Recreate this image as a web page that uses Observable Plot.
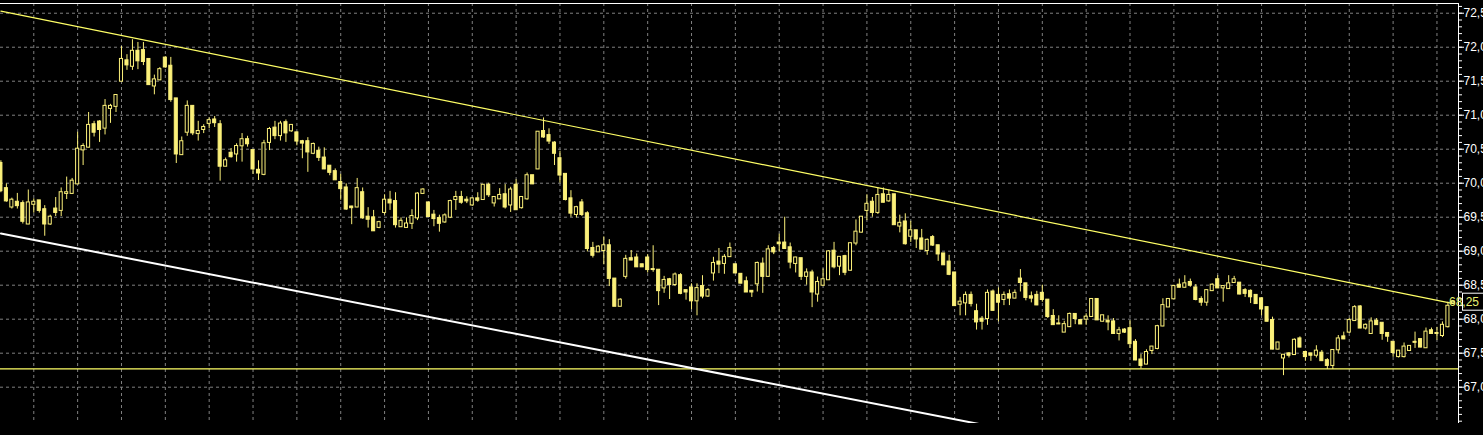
<!DOCTYPE html>
<html><head><meta charset="utf-8">
<script src="https://cdn.jsdelivr.net/npm/d3@7"></script>
<script src="https://cdn.jsdelivr.net/npm/@observablehq/plot@0.6"></script>
<style>html,body{margin:0;padding:0;background:#000;overflow:hidden}svg{display:block}</style>
</head><body><div id="chart"></div>
<script>
// ---- data (price per bar, bar index = position in list) ----
const opens = [70.29,69.92,69.65,69.72,69.70,69.40,69.69,69.74,69.61,69.40,69.62,69.60,69.85,69.85,69.99,70.49,70.53,70.86,70.90,70.81,71.10,71.13,71.50,71.80,71.72,71.94,71.95,71.82,71.43,71.52,71.84,71.72,71.24,70.42,70.75,71.13,70.73,70.79,70.88,70.93,70.86,70.25,70.44,70.43,70.55,70.64,70.48,70.19,70.13,70.60,70.81,70.70,70.89,70.77,70.74,70.61,70.61,70.44,70.47,70.37,70.25,70.17,70.01,69.93,69.65,69.65,69.86,69.50,69.49,69.35,69.57,69.75,69.73,69.36,69.35,69.41,69.49,69.85,69.71,69.53,69.48,69.43,69.50,69.76,69.79,69.75,69.68,69.77,69.76,69.97,69.71,69.77,69.83,69.68,69.97,69.64,69.77,70.11,70.21,70.76,70.70,70.59,70.36,70.13,69.77,69.54,69.71,69.55,69.04,68.99,69.01,69.08,68.59,68.19,68.63,68.89,68.90,68.80,68.90,68.73,68.72,68.46,68.58,68.51,68.64,68.42,68.46,68.27,68.48,68.34,68.68,68.84,68.82,68.92,68.80,68.66,68.55,68.41,68.52,68.81,68.63,69.04,69.12,69.12,69.05,68.82,68.89,68.63,68.68,68.37,68.50,68.58,69.00,68.78,68.92,68.72,69.12,69.28,69.60,69.72,69.57,69.83,69.74,69.83,69.37,69.43,69.22,69.30,69.18,69.01,69.20,69.08,68.96,68.84,68.68,68.22,68.24,68.35,68.11,68.00,68.01,68.40,68.35,68.29,68.36,68.31,68.59,68.52,68.33,68.35,68.38,68.28,68.04,67.93,67.81,67.89,68.07,67.98,68.00,68.04,68.29,67.97,67.97,67.96,67.79,67.84,67.86,67.66,67.40,67.34,67.54,67.57,67.90,68.18,68.30,68.50,68.47,68.54,68.46,68.29,68.25,68.42,68.58,68.46,68.45,68.54,68.53,68.42,68.41,68.35,68.30,68.17,67.98,67.56,67.43,67.49,67.48,67.71,67.51,67.49,67.47,67.50,67.39,67.32,67.55,67.74,67.81,67.98,68.18,67.87,67.79,67.97,67.94,67.79,67.66,67.45,67.45,67.54,67.66,67.70,67.58,67.83,67.79,67.76,67.89,68.24];
const highs = [70.33,69.99,69.78,69.85,69.74,69.90,69.77,69.74,69.67,69.53,69.79,69.93,70.09,70.07,70.75,70.58,71.04,70.91,70.92,71.23,71.16,71.29,72.01,71.89,72.11,72.07,72.07,71.82,71.59,71.70,71.86,71.85,71.24,70.68,71.21,71.14,70.91,70.86,70.96,70.98,70.92,70.37,70.51,70.58,70.73,70.69,70.48,70.33,70.63,70.82,70.91,70.91,70.93,70.86,70.75,70.63,70.67,70.59,70.53,70.52,70.25,70.21,70.13,69.99,69.66,70.07,69.93,69.64,69.60,69.44,69.83,69.88,69.86,69.49,69.49,69.61,69.86,69.92,69.71,69.60,69.53,69.55,69.75,69.88,69.88,69.80,69.78,69.86,69.98,70.00,69.80,69.92,69.98,69.94,70.05,69.80,70.15,70.11,70.75,70.96,70.80,70.61,70.47,70.13,69.89,69.66,69.76,69.58,69.13,69.08,69.21,69.17,68.59,68.30,68.94,69.01,68.96,68.81,68.95,69.08,68.72,68.63,68.60,68.68,68.67,68.42,68.52,68.52,68.64,68.45,68.91,69.04,68.95,69.12,68.80,68.67,68.62,68.42,68.84,68.90,69.08,69.07,69.25,69.50,69.12,68.91,68.89,68.74,68.72,68.62,68.74,69.01,69.13,68.92,68.94,69.12,69.46,69.51,69.83,69.79,69.93,69.93,69.90,69.83,69.53,69.55,69.44,69.30,69.32,69.18,69.23,69.08,68.96,68.94,68.68,68.32,68.40,68.40,68.22,68.04,68.43,68.43,68.46,68.40,68.43,68.43,68.73,68.52,68.40,68.41,68.50,68.28,68.14,68.05,67.97,68.09,68.07,67.98,68.08,68.30,68.29,68.05,68.05,68.01,67.88,67.86,67.98,67.70,67.48,67.55,67.60,67.91,68.30,68.29,68.50,68.59,68.64,68.59,68.51,68.33,68.43,68.52,68.64,68.48,68.64,68.63,68.53,68.45,68.43,68.35,68.31,68.17,68.03,67.66,67.48,67.51,67.71,67.74,67.53,67.49,67.61,67.54,67.42,67.55,67.76,67.81,68.01,68.20,68.20,67.93,68.02,68.01,67.94,67.80,67.66,67.54,67.65,67.61,67.81,67.70,67.87,67.87,67.88,67.96,68.25,68.26];
const lows = [69.86,69.72,69.62,69.62,69.40,69.39,69.56,69.56,69.22,69.38,69.51,69.51,69.76,69.84,69.98,70.26,70.52,70.68,70.60,70.71,70.88,71.04,71.50,71.66,71.66,71.67,71.73,71.44,71.30,71.51,71.69,71.19,70.29,70.41,70.69,70.70,70.62,70.73,70.80,70.82,70.03,70.25,70.37,70.31,70.31,70.53,70.13,70.04,70.11,70.48,70.64,70.62,70.60,70.75,70.55,70.36,70.16,70.42,70.32,70.20,70.11,70.05,69.75,69.60,69.39,69.64,69.47,69.34,69.29,69.33,69.53,69.60,69.34,69.35,69.34,69.32,69.45,69.84,69.50,69.36,69.28,69.41,69.48,69.60,69.69,69.70,69.66,69.72,69.75,69.79,69.65,69.76,69.62,69.57,69.60,69.62,69.75,69.98,70.20,70.66,70.57,70.26,70.00,69.74,69.50,69.49,69.51,68.99,68.90,68.99,68.80,68.48,68.19,68.19,68.59,68.86,68.76,68.77,68.68,68.69,68.20,68.38,68.29,68.48,68.36,68.28,68.14,68.05,68.30,68.32,68.56,68.67,68.66,68.92,68.68,68.52,68.40,68.32,68.40,68.38,68.62,68.95,68.99,69.03,68.74,68.68,68.57,68.50,68.17,68.25,68.48,68.57,68.74,68.64,68.64,68.71,69.08,69.27,69.45,69.50,69.54,69.71,69.72,69.38,69.27,69.09,69.13,69.04,69.03,68.94,69.07,68.85,68.79,68.64,68.19,68.05,68.05,68.18,67.84,67.84,67.91,68.12,67.96,68.20,68.20,68.30,68.40,68.27,68.24,68.20,68.25,68.01,67.91,67.92,67.81,67.88,67.92,67.93,67.91,68.03,67.98,67.96,67.83,67.78,67.68,67.79,67.57,67.39,67.27,67.33,67.48,67.55,67.89,68.18,68.29,68.46,68.46,68.47,68.27,68.19,68.19,68.41,68.45,68.25,68.44,68.53,68.36,68.32,68.23,68.23,68.05,67.96,67.55,67.55,67.17,67.43,67.47,67.58,67.38,67.38,67.43,67.38,67.26,67.26,67.49,67.70,67.79,67.97,67.86,67.84,67.79,67.91,67.69,67.66,67.44,67.43,67.43,67.53,67.57,67.58,67.57,67.78,67.69,67.73,67.87,68.22];
const closes = [69.89,69.74,69.75,69.67,69.44,69.71,69.72,69.60,69.40,69.50,69.57,69.86,69.86,70.03,70.50,70.54,70.85,70.75,70.79,71.13,71.13,71.29,71.82,71.74,71.94,71.80,71.79,71.45,71.52,71.67,71.71,71.23,70.43,70.61,71.13,70.74,70.76,70.82,70.92,70.89,70.25,70.33,70.39,70.54,70.64,70.58,70.21,70.15,70.58,70.79,70.70,70.87,70.74,70.85,70.62,70.59,70.46,70.57,70.38,70.21,70.16,70.05,69.92,69.62,69.64,69.92,69.49,69.47,69.30,69.42,69.75,69.71,69.39,69.44,69.40,69.51,69.84,69.90,69.51,69.48,69.41,69.52,69.73,69.79,69.72,69.74,69.77,69.75,69.97,69.83,69.79,69.82,69.65,69.90,69.61,69.79,70.11,69.99,70.75,70.68,70.62,70.44,70.12,69.76,69.56,69.64,69.54,69.04,68.94,69.06,69.08,68.60,68.19,68.28,68.88,68.87,68.77,68.77,68.73,68.73,68.42,68.57,68.51,68.65,68.38,68.40,68.27,68.45,68.34,68.42,68.82,68.81,68.91,69.04,68.68,68.53,68.40,68.40,68.82,68.63,69.02,68.99,69.11,69.04,68.84,68.90,68.63,68.68,68.40,68.54,68.58,68.99,68.77,68.91,68.69,69.11,69.28,69.50,69.69,69.57,69.82,69.72,69.82,69.39,69.41,69.11,69.30,69.18,69.03,69.16,69.09,68.96,68.80,68.66,68.20,68.25,68.35,68.23,67.96,67.97,68.38,68.13,68.25,68.35,68.31,68.38,68.54,68.32,68.31,68.21,68.29,68.04,67.92,67.93,67.92,68.07,68.01,67.93,68.03,68.29,67.99,68.05,67.96,67.79,67.83,67.81,67.64,67.40,67.32,67.51,67.59,67.89,68.20,68.29,68.48,68.47,68.52,68.50,68.29,68.25,68.42,68.50,68.46,68.48,68.52,68.58,68.37,68.38,68.33,68.23,68.15,67.97,67.56,67.65,67.47,67.47,67.69,67.59,67.45,67.47,67.53,67.39,67.32,67.54,67.71,67.71,67.98,68.17,67.87,67.91,67.96,67.92,67.79,67.75,67.51,67.53,67.59,67.60,67.66,67.59,67.81,67.79,67.79,67.91,68.19,68.25];

const priceTicks = [67.0, 67.5, 68.0, 68.5, 69.0, 69.5, 70.0, 70.5, 71.0, 71.5, 72.0, 72.5];
const upperTrendBar = [0, 265];
const upperTrendPrice = [72.53, 68.23];
const lowerTrendBar = [0, 265];
const lowerTrendPrice = [69.26, 65.10];
const supportLevel = 67.27;
const lastPrice = 68.25;
const lastPriceLabel = "68,25";

// ---- styling ----
const YELLOW = "#fbf07a";
const LINE_YELLOW = "#ffff66";
const GRID = "#808080";
const HW = 0.28; // half body width in bar units
const FONT = "'Liberation Sans', Arial, sans-serif";

const bars = opens.map((o, i) => ({i, o, h: highs[i], l: lows[i], c: closes[i]}));
const gridBars = d3.range(6, bars.length, 8);
const minorTicks = d3.range(665, 727).map(v => v / 10);
const upper = upperTrendBar.map((b, k) => ({b, p: upperTrendPrice[k]}));
const lower = lowerTrendBar.map((b, k) => ({b, p: lowerTrendPrice[k]}));
const xMax = 265.93, yMax = 72.643;
const fmt = d => d.toFixed(1).replace(".", ",");

const plot = Plot.plot({
  width: 1483, height: 435,
  marginLeft: 0, marginRight: 25, marginTop: 3, marginBottom: 12,
  style: {background: "#000", color: "#fff", fontFamily: FONT, fontSize: "12px"},
  x: {domain: [-0.073, xMax], axis: null},
  y: {domain: [66.466, yMax], axis: null},
  marks: [
    Plot.gridY(priceTicks, {stroke: GRID, strokeOpacity: 1, strokeDasharray: "3,3"}),
    Plot.gridX(gridBars, {stroke: GRID, strokeOpacity: 1, strokeDasharray: "3,3"}),
    Plot.ruleY([supportLevel], {stroke: LINE_YELLOW, strokeWidth: 1.2}),
    Plot.line(lower, {x: "b", y: "p", stroke: "#fff", strokeWidth: 2, clip: true}),
    Plot.line(upper, {x: "b", y: "p", stroke: LINE_YELLOW, strokeWidth: 1.2, clip: true}),
    Plot.ruleX(bars, {x: "i", y1: "l", y2: "h", stroke: YELLOW, strokeWidth: 1}),
    Plot.rect(bars, {
      x1: d => d.i - HW, x2: d => d.i + HW, y1: "o", y2: "c",
      fill: d => d.c > d.o ? "#000" : YELLOW, stroke: YELLOW, strokeWidth: 1,
      insetTop: -0.5, insetBottom: -0.5
    }),
    Plot.ruleY([yMax], {stroke: "#fff", strokeWidth: 1}),
    Plot.ruleX([xMax], {stroke: "#fff", strokeWidth: 1}),
    Plot.axisY(minorTicks, {anchor: "right", tickSize: 3, tickFormat: () => "", stroke: "#fff"}),
    Plot.axisY(priceTicks, {anchor: "right", tickSize: 5, tickPadding: 0, tickFormat: fmt, fill: "#fff", stroke: "#fff", fontSize: 12})
  ]
});

const y = plot.scale("y");
const svg = d3.select(plot);
const yy = y.apply(lastPrice);
svg.append("rect").attr("x", 1462.5).attr("y", yy - 8.5).attr("width", 40).attr("height", 17)
  .attr("fill", "#000").attr("stroke", "#fff").attr("stroke-width", 1);
svg.append("text").attr("x", 1464).attr("y", yy).attr("dy", "0.35em")
  .attr("fill", "#e8f070").attr("font-family", FONT).attr("font-size", 12)
  .text(lastPriceLabel);

document.getElementById("chart").append(plot);
</script>
</body></html>
